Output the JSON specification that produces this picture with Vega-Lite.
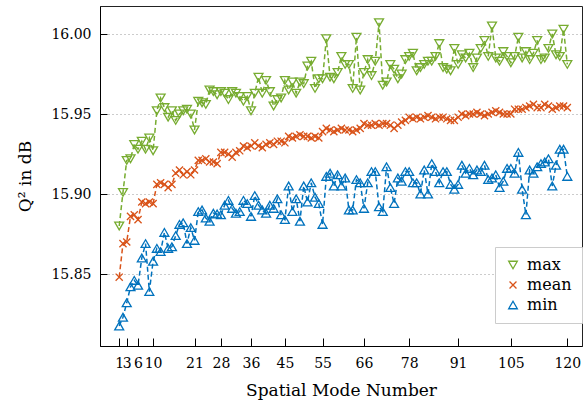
{
"$schema": "https://vega.github.io/schema/vega-lite/v6.json",
"width": 482, "height": 340,
"autosize": {"type": "none"},
"padding": {"left": 100, "top": 6, "right": 1, "bottom": 59},
"config": {
  "font": "DejaVu Serif",
  "view": {"stroke": "#222", "strokeWidth": 1},
  "axis": {"labelFont": "DejaVu Serif", "titleFont": "DejaVu Serif", "labelColor": "#000", "titleColor": "#000", "domainColor": "#000", "tickColor": "#000", "titleFontWeight": "normal", "labelFontSize": 14, "titleFontSize": 17},
  "legend": {"orient": "none", "legendX": 395, "legendY": 241, "title": null, "labelFont": "DejaVu Serif", "labelFontSize": 16, "labelColor": "#000", "labelOffset": 6, "symbolStrokeWidth": 1.3, "symbolSize": 75, "padding": 10, "rowPadding": 4, "strokeColor": "#ccc", "fillColor": "#fff"}
},
"data": {"values": [
{"n":1,"max":15.880,"mean":15.848,"min":15.8175},
{"n":2,"max":15.901,"mean":15.869,"min":15.823},
{"n":3,"max":15.921,"mean":15.870,"min":15.832},
{"n":4,"max":15.922,"mean":15.886,"min":15.842},
{"n":5,"max":15.931,"mean":15.887,"min":15.846},
{"n":6,"max":15.928,"mean":15.884,"min":15.843},
{"n":7,"max":15.933,"mean":15.895,"min":15.860},
{"n":8,"max":15.928,"mean":15.894,"min":15.869},
{"n":9,"max":15.935,"mean":15.895,"min":15.839},
{"n":10,"max":15.927,"mean":15.894,"min":15.858},
{"n":11,"max":15.952,"mean":15.906,"min":15.866},
{"n":12,"max":15.960,"mean":15.907,"min":15.864},
{"n":13,"max":15.954,"mean":15.906,"min":15.876},
{"n":14,"max":15.948,"mean":15.904,"min":15.866},
{"n":15,"max":15.952,"mean":15.906,"min":15.867},
{"n":16,"max":15.946,"mean":15.913,"min":15.874},
{"n":17,"max":15.950,"mean":15.915,"min":15.881},
{"n":18,"max":15.952,"mean":15.912,"min":15.882},
{"n":19,"max":15.953,"mean":15.914,"min":15.869},
{"n":20,"max":15.950,"mean":15.912,"min":15.879},
{"n":21,"max":15.940,"mean":15.915,"min":15.871},
{"n":22,"max":15.958,"mean":15.921,"min":15.889},
{"n":23,"max":15.957,"mean":15.921,"min":15.890},
{"n":24,"max":15.956,"mean":15.922,"min":15.885},
{"n":25,"max":15.965,"mean":15.920,"min":15.883},
{"n":26,"max":15.964,"mean":15.920,"min":15.888},
{"n":27,"max":15.962,"mean":15.919,"min":15.8875},
{"n":28,"max":15.964,"mean":15.926,"min":15.887},
{"n":29,"max":15.963,"mean":15.926,"min":15.893},
{"n":30,"max":15.959,"mean":15.925,"min":15.896},
{"n":31,"max":15.964,"mean":15.923,"min":15.891},
{"n":32,"max":15.963,"mean":15.926,"min":15.888},
{"n":33,"max":15.961,"mean":15.927,"min":15.889},
{"n":34,"max":15.958,"mean":15.930,"min":15.896},
{"n":35,"max":15.961,"mean":15.929,"min":15.894},
{"n":36,"max":15.952,"mean":15.930,"min":15.886},
{"n":37,"max":15.963,"mean":15.932,"min":15.899},
{"n":38,"max":15.973,"mean":15.930,"min":15.893},
{"n":39,"max":15.963,"mean":15.929,"min":15.890},
{"n":40,"max":15.971,"mean":15.931,"min":15.888},
{"n":41,"max":15.964,"mean":15.932,"min":15.893},
{"n":42,"max":15.955,"mean":15.931,"min":15.891},
{"n":43,"max":15.959,"mean":15.933,"min":15.897},
{"n":44,"max":15.960,"mean":15.933,"min":15.887},
{"n":45,"max":15.971,"mean":15.932,"min":15.884},
{"n":46,"max":15.965,"mean":15.936,"min":15.905},
{"n":47,"max":15.970,"mean":15.935,"min":15.889},
{"n":48,"max":15.963,"mean":15.936,"min":15.897},
{"n":49,"max":15.970,"mean":15.937,"min":15.883},
{"n":50,"max":15.969,"mean":15.936,"min":15.905},
{"n":51,"max":15.980,"mean":15.936,"min":15.895},
{"n":52,"max":15.983,"mean":15.935,"min":15.907},
{"n":53,"max":15.966,"mean":15.936,"min":15.898},
{"n":54,"max":15.972,"mean":15.935,"min":15.894},
{"n":55,"max":15.972,"mean":15.939,"min":15.881},
{"n":56,"max":15.997,"mean":15.941,"min":15.911},
{"n":57,"max":15.973,"mean":15.940,"min":15.913},
{"n":58,"max":15.972,"mean":15.939,"min":15.905},
{"n":59,"max":15.976,"mean":15.940,"min":15.912},
{"n":60,"max":15.986,"mean":15.941,"min":15.905},
{"n":61,"max":15.981,"mean":15.940,"min":15.910},
{"n":62,"max":15.981,"mean":15.940,"min":15.890},
{"n":63,"max":15.966,"mean":15.939,"min":15.890},
{"n":64,"max":15.998,"mean":15.940,"min":15.909},
{"n":65,"max":15.965,"mean":15.941,"min":15.907},
{"n":66,"max":15.976,"mean":15.944,"min":15.891},
{"n":67,"max":15.984,"mean":15.943,"min":15.907},
{"n":68,"max":15.974,"mean":15.943,"min":15.914},
{"n":69,"max":15.983,"mean":15.944,"min":15.914},
{"n":70,"max":16.007,"mean":15.943,"min":15.892},
{"n":71,"max":15.968,"mean":15.944,"min":15.889},
{"n":72,"max":15.970,"mean":15.944,"min":15.917},
{"n":73,"max":15.981,"mean":15.943,"min":15.904},
{"n":74,"max":15.978,"mean":15.941,"min":15.894},
{"n":75,"max":15.972,"mean":15.943,"min":15.910},
{"n":76,"max":15.975,"mean":15.945,"min":15.908},
{"n":77,"max":15.984,"mean":15.946,"min":15.914},
{"n":78,"max":15.986,"mean":15.948,"min":15.914},
{"n":79,"max":15.988,"mean":15.947,"min":15.907},
{"n":80,"max":15.977,"mean":15.948,"min":15.907},
{"n":81,"max":15.979,"mean":15.947,"min":15.900},
{"n":82,"max":15.981,"mean":15.948,"min":15.915},
{"n":83,"max":15.983,"mean":15.949,"min":15.900},
{"n":84,"max":15.983,"mean":15.948,"min":15.919},
{"n":85,"max":15.986,"mean":15.947,"min":15.914},
{"n":86,"max":15.994,"mean":15.948,"min":15.907},
{"n":87,"max":15.979,"mean":15.948,"min":15.914},
{"n":88,"max":15.978,"mean":15.947,"min":15.914},
{"n":89,"max":15.977,"mean":15.946,"min":15.906},
{"n":90,"max":15.991,"mean":15.946,"min":15.903},
{"n":91,"max":15.981,"mean":15.948,"min":15.906},
{"n":92,"max":15.987,"mean":15.950,"min":15.918},
{"n":93,"max":15.985,"mean":15.949,"min":15.913},
{"n":94,"max":15.988,"mean":15.950,"min":15.916},
{"n":95,"max":15.979,"mean":15.950,"min":15.912},
{"n":96,"max":15.985,"mean":15.951,"min":15.915},
{"n":97,"max":15.991,"mean":15.950,"min":15.914},
{"n":98,"max":15.996,"mean":15.949,"min":15.918},
{"n":99,"max":15.986,"mean":15.950,"min":15.909},
{"n":100,"max":16.005,"mean":15.951,"min":15.910},
{"n":101,"max":15.985,"mean":15.952,"min":15.912},
{"n":102,"max":15.983,"mean":15.951,"min":15.904},
{"n":103,"max":15.989,"mean":15.950,"min":15.908},
{"n":104,"max":15.986,"mean":15.950,"min":15.916},
{"n":105,"max":15.982,"mean":15.950,"min":15.916},
{"n":106,"max":15.986,"mean":15.953,"min":15.913},
{"n":107,"max":15.998,"mean":15.953,"min":15.926},
{"n":108,"max":15.985,"mean":15.953,"min":15.903},
{"n":109,"max":15.989,"mean":15.954,"min":15.887},
{"n":110,"max":15.984,"mean":15.955,"min":15.915},
{"n":111,"max":15.988,"mean":15.956,"min":15.913},
{"n":112,"max":15.996,"mean":15.954,"min":15.917},
{"n":113,"max":15.984,"mean":15.954,"min":15.919},
{"n":114,"max":15.985,"mean":15.956,"min":15.920},
{"n":115,"max":15.991,"mean":15.955,"min":15.922},
{"n":116,"max":16.000,"mean":15.953,"min":15.905},
{"n":117,"max":15.987,"mean":15.954,"min":15.918},
{"n":118,"max":15.986,"mean":15.955,"min":15.928},
{"n":119,"max":16.003,"mean":15.955,"min":15.928},
{"n":120,"max":15.981,"mean":15.954,"min":15.911}
]},
"transform": [{"fold": ["max", "mean", "min"], "as": ["series", "value"]}],
"encoding": {
  "x": {"field": "n", "type": "quantitative", "scale": {"domain": [-4.1, 123.9], "nice": false, "zero": false},
    "axis": {"values": [1,3,6,10,21,28,36,45,55,66,78,91,105,120], "grid": false, "tickSize": -8, "labelOverlap": false, "labelFlush": false, "labelPadding": 18, "title": "Spatial Mode Number", "titlePadding": 12}},
  "y": {"field": "value", "type": "quantitative", "scale": {"domain": [15.805, 16.0175], "nice": false, "zero": false},
    "axis": {"values": [15.85, 15.9, 15.95, 16.0], "format": ".2f", "grid": true, "gridDash": [1, 3], "gridColor": "#999", "tickSize": -7, "labelPadding": 16, "title": "Q² in dB", "titlePadding": 16}},
  "color": {"field": "series", "type": "nominal", "scale": {"domain": ["max", "mean", "min"], "range": ["#77AC30", "#D95319", "#0072BD"]}}
},
"layer": [
  {"mark": {"type": "line", "strokeDash": [5, 3], "strokeWidth": 1.5}},
  {"mark": {"type": "point", "filled": false, "strokeWidth": 1.3, "size": 80, "opacity": 1},
   "encoding": {
     "shape": {"field": "series", "type": "nominal", "scale": {"domain": ["max", "mean", "min"], "range": ["triangle-down", "M-0.8,-0.8L0.8,0.8M0.8,-0.8L-0.8,0.8", "triangle-up"]}}
   }}
]
}
